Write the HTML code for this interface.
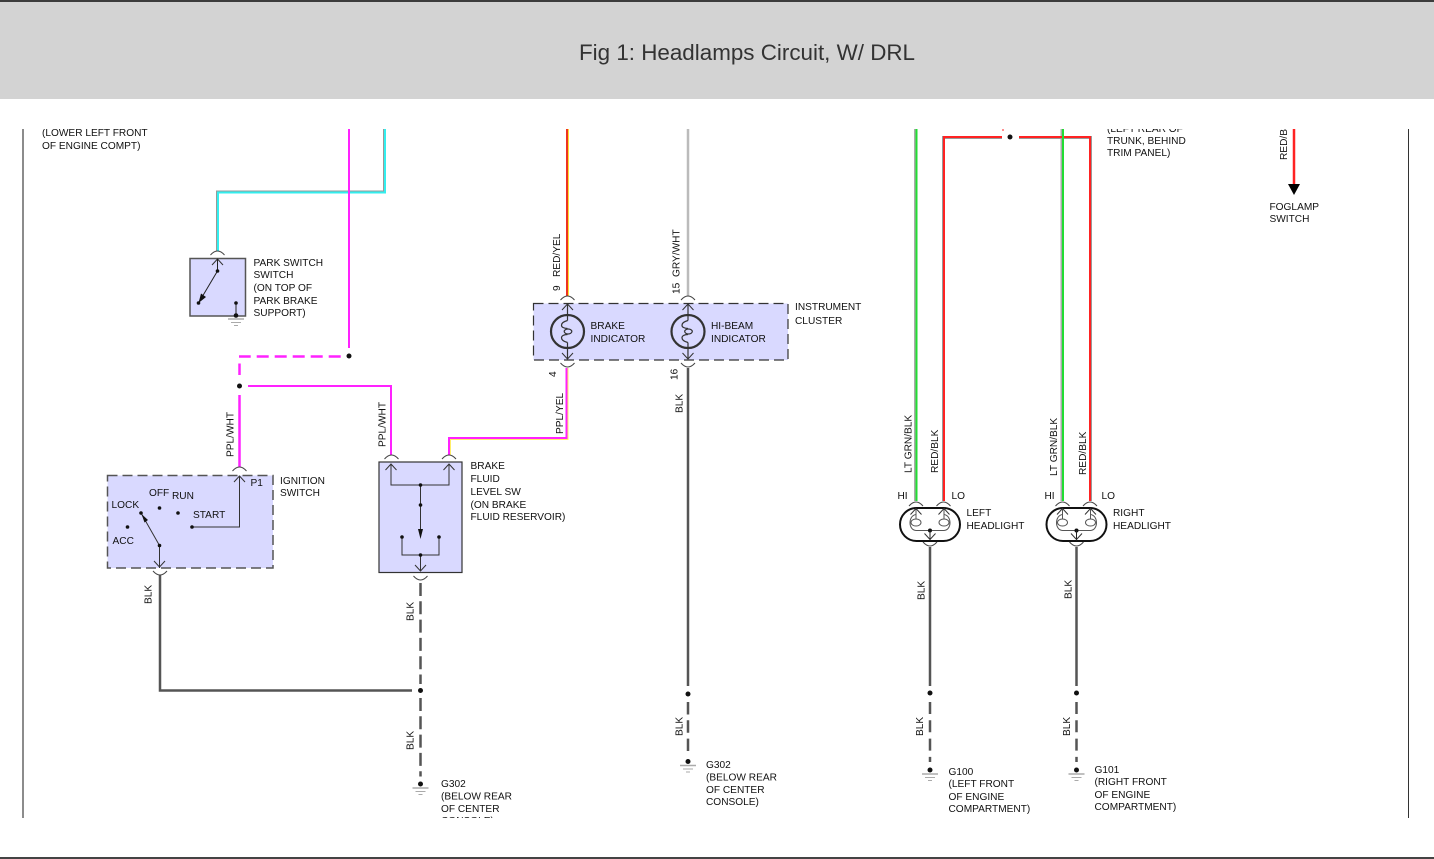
<!DOCTYPE html>
<html><head><meta charset="utf-8"><style>
html,body{margin:0;padding:0;background:#fff;width:1434px;height:859px;overflow:hidden}
svg{display:block;position:absolute;left:0;top:0}
text{font-family:"Liberation Sans",sans-serif;font-size:10.15px;fill:#111}
.n{fill:none}
</style></head><body>
<svg width="1434" height="859" viewBox="0 0 1434 859" xmlns="http://www.w3.org/2000/svg">
<defs>
<clipPath id="c"><rect x="0" y="129" width="1434" height="689"/></clipPath>
<path id="at" class="n" d="M-7 3Q-3.5 -1 0 -1Q3.500 -1 7 3" stroke="#444" stroke-width="1"/>
<path id="ab" class="n" d="M-7 -3Q-3.5 1 0 1Q3.500 1 7 -3" stroke="#444" stroke-width="1"/>
<path id="cu" class="n" d="M-5.500 6L0 0L5.500 6" stroke="#333" stroke-width="1"/>
<path id="cd" class="n" d="M-5.500 -6L0 0L5.500 -6" stroke="#333" stroke-width="1"/>
<g id="gnd" stroke="#aaa"><path d="M-8 0H8" stroke-width="1.500"/><path d="M-5 3.500H5" stroke-width="1"/><path d="M-2 6.500H2" stroke-width="1"/></g>
<g id="lamp" class="n" stroke="#333"><circle r="16.500" stroke-width="2.200"/><path d="M0 -27V-11M0 11V27" stroke-width="1.200"/>
<path d="M0 -11C-8 -9 -8 -3 0 -3M0 11C-8 9 -8 3 0 3" stroke-width="1.200"/><ellipse cx="0.500" rx="3.800" ry="2.500" stroke-width="1.200"/></g>
<g id="hl">
<rect x="-30" y="-16.500" width="60" height="33" rx="16.500" fill="#fff" stroke="#111" stroke-width="2"/>
<g class="n" stroke="#555" stroke-width="1">
<ellipse cx="-14" cy="-2" rx="5" ry="3.500"/><ellipse cx="14" cy="-2" rx="5" ry="3.500"/>
<path d="M-14 -16V-5.500M14 -16V-5.500M-14 -10C-22 -9 -22 5.500 -14 6H14C22 5.500 22 -9 14 -10"/>
</g>
<use href="#cu" x="-14" y="-16"/><use href="#cu" x="14" y="-16"/>
<circle cx="0" cy="6" r="2" fill="#111"/><path d="M0 6V16" stroke="#222" stroke-width="1"/><use href="#cd" x="0" y="15"/>
</g>
</defs>

<rect x="0" y="0" width="1434" height="99" fill="#d3d3d3"/>
<rect x="0" y="0" width="1434" height="2" fill="#3c3c3c"/>
<rect x="0" y="857" width="1434" height="2" fill="#444"/>
<text x="579" y="60" textLength="336" lengthAdjust="spacingAndGlyphs" style="font-size:22px;fill:#333">Fig 1: Headlamps Circuit, W/ DRL</text>

<g clip-path="url(#c)">
<path d="M23 129V818" stroke="#666" stroke-width="1.500"/>
<path d="M1408.500 129V818" stroke="#333" stroke-width="1"/>

<!-- wires -->
<g class="n" stroke-linejoin="miter">
<path d="M384.500 129V192H217.500V251" stroke="#999" stroke-width="3"/>
<path d="M385 129V192.500H218V251" stroke="#33eeee" stroke-width="2"/>
<path d="M349 129V348" stroke="#ff22ff" stroke-width="2"/>
<path d="M340.700 356.500H239" stroke="#ff22ff" stroke-width="2.500" stroke-dasharray="12 6"/>
<path d="M239.500 363.500V375" stroke="#ff22ff" stroke-width="2.500"/>
<path d="M239.500 395V467" stroke="#ff22ff" stroke-width="2.500"/>
<path d="M248 386H391V455" stroke="#ff22ff" stroke-width="2"/>
<path d="M449.500 455V438.500H567V368" stroke="#ffee66" stroke-width="3"/>
<path d="M449 455V438H566.500V368" stroke="#ff22ff" stroke-width="2"/>
<path d="M567.500 129V296" stroke="#ffdd33" stroke-width="3"/>
<path d="M567 129V296" stroke="#ee3322" stroke-width="2"/>
<path d="M688 129V296" stroke="#bbb" stroke-width="2.500"/>
<path d="M688 368V686" stroke="#555" stroke-width="2.500"/>
<path d="M688 702V751" stroke="#555" stroke-width="2.500" stroke-dasharray="12.500 5.800"/>
<path d="M160 575V690.500H412" stroke="#555" stroke-width="2.500"/>
<path d="M420.500 583V684" stroke="#555" stroke-width="2.500" stroke-dasharray="13 5.300"/>
<path d="M420.500 698V776.500" stroke="#555" stroke-width="2.500" stroke-dasharray="13 5.300"/>
<path d="M915.500 129V501" stroke="#aaa" stroke-width="3"/><path d="M916.500 129V501" stroke="#22dd33" stroke-width="2"/>
<path d="M1062 129V501" stroke="#aaa" stroke-width="3"/><path d="M1063 129V501" stroke="#22dd33" stroke-width="2"/>
<path d="M1002 137.500H943.500V501M1019 137.500H1090.500V501" stroke="#999" stroke-width="3"/>
<path d="M1002 137H944V501M1019 137H1090V501" stroke="#ff2222" stroke-width="2"/>
<path d="M1063 129V150" stroke="#22dd33" stroke-width="2"/>
<path d="M1003 129V131" stroke="#ff2222" stroke-width="1"/>
<path d="M930 547V686" stroke="#555" stroke-width="2.500"/>
<path d="M1076.500 547V686" stroke="#555" stroke-width="2.500"/>
<path d="M930 702V762M1076.500 702V762" stroke="#555" stroke-width="2.500" stroke-dasharray="12 6.300"/>
<path d="M1294 129V185" stroke="#ff2222" stroke-width="2.500"/>
</g>
<path d="M1288 184H1300L1294 195Z" fill="#000"/>

<!-- Park switch -->
<rect x="190" y="258.500" width="55.500" height="57.500" fill="#d9d9ff" stroke="#555" stroke-width="1.500"/>
<use href="#at" x="217.500" y="252"/>
<use href="#cu" x="217.500" y="259"/>
<path d="M217.500 259V271L198.500 303" class="n" stroke="#222" stroke-width="1"/>
<path d="M198.500 303L201 293.500L206 297Z" fill="#111"/>
<circle cx="217.500" cy="271" r="1.800" fill="#111"/><circle cx="198.500" cy="303" r="1.800" fill="#111"/>
<path d="M236 303V315" stroke="#222" stroke-width="1"/><circle cx="236" cy="303" r="1.800" fill="#111"/><circle cx="236" cy="315.500" r="2.300" fill="#111"/>
<use href="#gnd" x="236" y="319"/>

<!-- Ignition -->
<rect x="107.500" y="475.500" width="165.500" height="92.500" fill="#d9d9ff" stroke="#555" stroke-width="1.500" stroke-dasharray="10 5"/>
<use href="#at" x="239.500" y="468"/>
<use href="#cu" x="239.500" y="476"/>
<path d="M192 527H239.500V476" class="n" stroke="#333" stroke-width="1"/>
<path d="M141 513L159.500 545.500V568" class="n" stroke="#333" stroke-width="1"/>
<path d="M141.500 514L148 520L144.500 522.500Z" fill="#111"/>
<use href="#cd" x="159.500" y="567"/>
<use href="#ab" x="160" y="574"/>
<g fill="#111"><circle cx="141" cy="513" r="1.800"/><circle cx="159.500" cy="508" r="1.800"/><circle cx="178" cy="513" r="1.800"/><circle cx="127.500" cy="527" r="1.800"/><circle cx="159.500" cy="545.500" r="1.800"/><circle cx="192" cy="527" r="1.800"/></g>

<!-- Brake fluid -->
<rect x="379" y="462" width="83" height="110.500" fill="#d9d9ff" stroke="#333" stroke-width="1.200"/>
<use href="#at" x="391.500" y="456"/><use href="#at" x="449" y="456"/>
<use href="#cu" x="391" y="464"/><use href="#cu" x="449" y="464"/>
<path d="M391 464V485H449V464M420.500 485V530" class="n" stroke="#333" stroke-width="1"/>
<path d="M402 537V555H439V537M420.500 555V571" class="n" stroke="#333" stroke-width="1"/>
<path d="M418 529H423L420.500 539Z" fill="#111"/>
<use href="#cd" x="420.500" y="571"/>
<use href="#ab" x="420.500" y="579"/>
<g fill="#111"><circle cx="420.500" cy="485" r="1.800"/><circle cx="420.500" cy="505" r="1.800"/><circle cx="402" cy="537" r="1.800"/><circle cx="439" cy="537" r="1.800"/><circle cx="420.500" cy="555" r="1.800"/></g>

<!-- Cluster -->
<rect x="533.500" y="303.500" width="254.500" height="56.500" fill="#d9d9ff" stroke="#333" stroke-width="1.200" stroke-dasharray="10 5"/>
<use href="#lamp" x="567.500" y="331.500"/><use href="#lamp" x="688" y="331.500"/>
<use href="#at" x="567.500" y="297"/><use href="#at" x="688" y="297"/>
<use href="#ab" x="567.500" y="366"/><use href="#ab" x="688" y="366"/>
<use href="#cu" x="567.500" y="304"/><use href="#cu" x="688" y="304"/>
<use href="#cd" x="567.500" y="359"/><use href="#cd" x="688" y="359"/>

<!-- Headlights -->
<use href="#hl" x="930" y="524.500"/><use href="#hl" x="1076.500" y="524.500"/>
<use href="#at" x="916" y="503"/><use href="#at" x="943.500" y="503"/>
<use href="#at" x="1062.500" y="503"/><use href="#at" x="1090" y="503"/>
<use href="#ab" x="930" y="545"/><use href="#ab" x="1076.500" y="545"/>

<!-- dots / grounds -->
<g fill="#111">
<circle cx="349" cy="356" r="2.500"/><circle cx="239.500" cy="386" r="2.500"/>
<circle cx="420.500" cy="690.500" r="2.500"/><circle cx="420.500" cy="784" r="2.500"/>
<circle cx="688" cy="694" r="2.500"/><circle cx="688" cy="761.500" r="2.500"/>
<circle cx="930" cy="693" r="2.500"/><circle cx="930" cy="770" r="2.500"/>
<circle cx="1076.500" cy="693" r="2.500"/><circle cx="1076.500" cy="770" r="2.500"/>
<circle cx="1010" cy="137" r="2.500"/>
</g>
<use href="#gnd" x="420.500" y="788"/><use href="#gnd" x="688" y="765.500"/>
<use href="#gnd" x="930" y="774"/><use href="#gnd" x="1076.500" y="774"/>

<!-- labels -->
<text x="42" y="136">(LOWER LEFT FRONT</text><text x="42" y="149">OF ENGINE COMPT)</text>
<text x="253.500" y="266">PARK SWITCH</text><text x="253.500" y="278">SWITCH</text><text x="253.500" y="291">(ON TOP OF</text><text x="253.500" y="304">PARK BRAKE</text><text x="253.500" y="316">SUPPORT)</text>
<text x="280" y="484">IGNITION</text><text x="280" y="496">SWITCH</text><text x="250.500" y="486">P1</text>
<text x="149" y="496">OFF</text><text x="172" y="499">RUN</text><text x="111.500" y="508">LOCK</text><text x="193" y="518">START</text><text x="112.500" y="544">ACC</text>
<text x="470.500" y="469">BRAKE</text><text x="470.500" y="482">FLUID</text><text x="470.500" y="495">LEVEL SW</text><text x="470.500" y="508">(ON BRAKE</text><text x="470.500" y="520">FLUID RESERVOIR)</text>
<text x="590.500" y="329">BRAKE</text><text x="590.500" y="342">INDICATOR</text>
<text x="711" y="329">HI-BEAM</text><text x="711" y="342">INDICATOR</text>
<text x="795" y="310">INSTRUMENT</text><text x="795" y="324">CLUSTER</text>
<text x="966.500" y="516">LEFT</text><text x="966.500" y="529">HEADLIGHT</text>
<text x="1113" y="516">RIGHT</text><text x="1113" y="529">HEADLIGHT</text>
<text x="897.500" y="499">HI</text><text x="951.500" y="499">LO</text><text x="1044.500" y="499">HI</text><text x="1101.500" y="499">LO</text>
<text x="441" y="787">G302</text><text x="441" y="799.500">(BELOW REAR</text><text x="441" y="812">OF CENTER</text><text x="441" y="824">CONSOLE)</text>
<text x="706" y="768">G302</text><text x="706" y="780.500">(BELOW REAR</text><text x="706" y="793">OF CENTER</text><text x="706" y="805">CONSOLE)</text>
<text x="948.500" y="775">G100</text><text x="948.500" y="787">(LEFT FRONT</text><text x="948.500" y="800">OF ENGINE</text><text x="948.500" y="812">COMPARTMENT)</text>
<text x="1094.500" y="773">G101</text><text x="1094.500" y="785">(RIGHT FRONT</text><text x="1094.500" y="798">OF ENGINE</text><text x="1094.500" y="810">COMPARTMENT)</text>
<text x="1107" y="132">(LEFT REAR OF</text><text x="1107" y="144">TRUNK, BEHIND</text><text x="1107" y="156">TRIM PANEL)</text>
<text x="1269.500" y="210">FOGLAMP</text><text x="1269.500" y="222">SWITCH</text>

<text transform="translate(560,277) rotate(-90)">RED/YEL</text>
<text transform="translate(560,291) rotate(-90)">9</text>
<text transform="translate(679.500,277) rotate(-90)">GRY/WHT</text>
<text transform="translate(679.500,294) rotate(-90)">15</text>
<text transform="translate(556,377) rotate(-90)">4</text>
<text transform="translate(677.500,380) rotate(-90)">16</text>
<text transform="translate(563,434) rotate(-90)">PPL/YEL</text>
<text transform="translate(682.500,413) rotate(-90)">BLK</text>
<text transform="translate(233.500,457) rotate(-90)">PPL/WHT</text>
<text transform="translate(385.500,447) rotate(-90)">PPL/WHT</text>
<text transform="translate(151.500,604) rotate(-90)">BLK</text>
<text transform="translate(413.500,621) rotate(-90)">BLK</text>
<text transform="translate(413.500,750) rotate(-90)">BLK</text>
<text transform="translate(682.500,736) rotate(-90)">BLK</text>
<text transform="translate(911.500,473) rotate(-90)">LT GRN/BLK</text>
<text transform="translate(938,473) rotate(-90)">RED/BLK</text>
<text transform="translate(1057,476) rotate(-90)">LT GRN/BLK</text>
<text transform="translate(1086,475) rotate(-90)">RED/BLK</text>
<text transform="translate(924.500,600) rotate(-90)">BLK</text>
<text transform="translate(1071.500,599) rotate(-90)">BLK</text>
<text transform="translate(923,736) rotate(-90)">BLK</text>
<text transform="translate(1070,736) rotate(-90)">BLK</text>
<text transform="translate(1287,160) rotate(-90)">RED/B</text>
</g>
</svg>
</body></html>
